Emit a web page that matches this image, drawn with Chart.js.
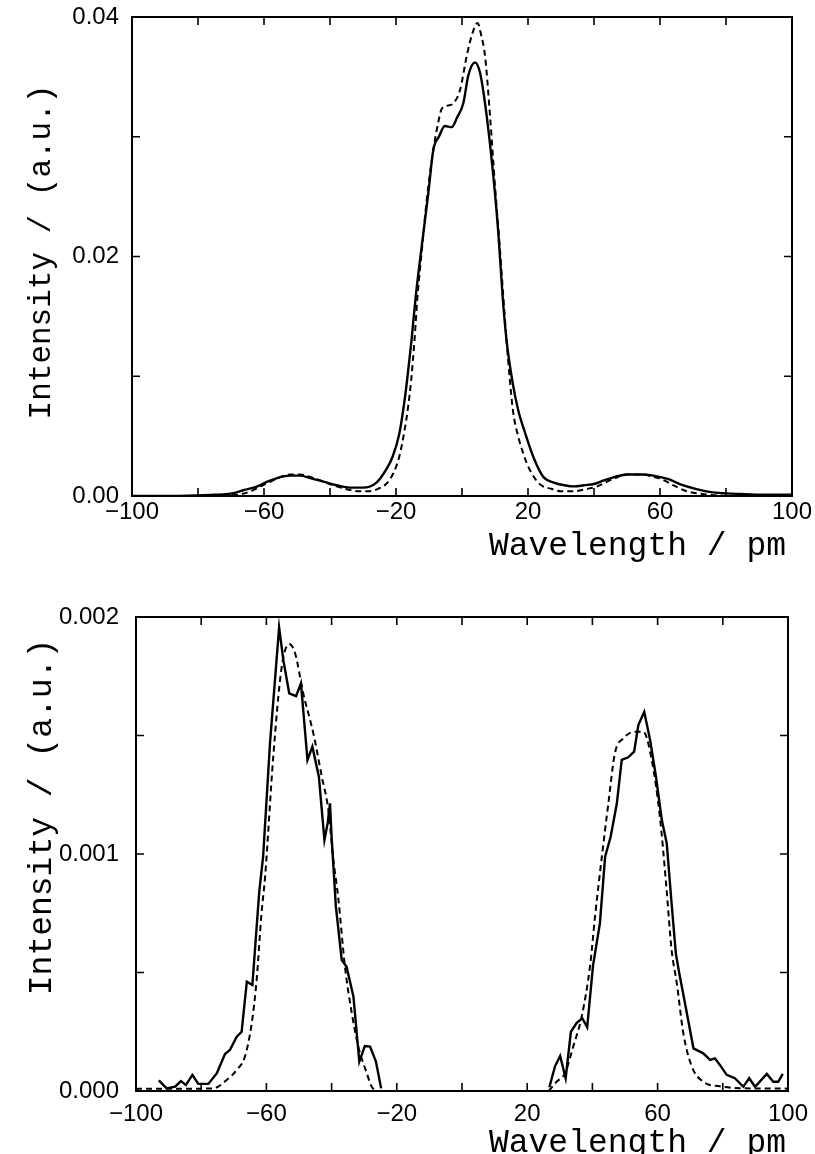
<!DOCTYPE html>
<html><head><meta charset="utf-8">
<script src="https://cdn.jsdelivr.net/npm/chart.js@4"></script>
<style>
html,body{margin:0;padding:0;background:#fff;}
#wrap{position:relative;width:815px;height:1154px;}
.box{position:absolute;left:0;width:815px;height:577px;}
</style></head><body>
<div id="wrap">
<div class="box" style="top:0"><canvas id="top"></canvas></div>
<div class="box" style="top:577px"><canvas id="bot"></canvas></div>
</div>
<script>
// top panel: measured (solid) and fit (dashed), wavelength in pm
var topSolidX = [-100,-90,-80,-75,-70,-66,-62,-59,-56,-52,-49,-46,-42,-38,-34,-30,-26,-23,-21,-19,-17.5,-16.5,-15.3,-14,-12,-10.2,-8.7,-7,-5.2,-3.1,-1.5,0.4,1.9,3.9,5.5,7.5,9.5,11,12.3,13.5,15.2,17,19.2,22,24.6,28,31,34,37,40,43,46.4,50,54.5,58,62.6,66,70.8,76,82,90,100];
var topSolidY = [0,0,0.00005,0.0001,0.0002,0.0005,0.0008,0.0012,0.0015,0.0017,0.0017,0.0015,0.0012,0.0009,0.0007,0.0007,0.0011,0.0022,0.0033,0.0052,0.0078,0.0100,0.0130,0.0167,0.0213,0.0253,0.0289,0.0300,0.0309,0.0308,0.0316,0.0328,0.0351,0.0362,0.0353,0.0317,0.0267,0.0220,0.0167,0.0130,0.0097,0.0072,0.0052,0.0030,0.0016,0.0011,0.0009,0.0008,0.0009,0.0010,0.0013,0.0016,0.0018,0.0018,0.0017,0.0014,0.0010,0.0006,0.0003,0.0002,0.0001,0.0001];
var topFitX = [-100,-80,-72,-68,-64,-61,-58,-55,-52,-49,-46,-42,-38,-34,-31,-28,-25.5,-23,-20.8,-19,-17.4,-16.3,-15.4,-14.4,-13.5,-12,-10.7,-8.7,-7.2,-6.2,-4.4,-2.6,-0.6,1.4,3,4.7,5.8,7,8.5,10,11.5,12.5,13.5,14.5,15.5,17,18.5,20,22,24,27,30,34,38,41,44,46.4,50,54.5,58,61.3,64,68,72,75,80,100];
var topFitY = [0,0,0.00005,0.0001,0.0004,0.0008,0.0012,0.0016,0.0018,0.0018,0.0016,0.0012,0.0008,0.0005,0.0004,0.0004,0.0006,0.0010,0.0019,0.0033,0.0055,0.0075,0.0097,0.0130,0.0166,0.0210,0.0247,0.0289,0.0312,0.0323,0.0326,0.0328,0.0339,0.0367,0.0385,0.0395,0.0385,0.0367,0.0317,0.0259,0.0206,0.0167,0.0130,0.0097,0.0070,0.0050,0.0036,0.0025,0.0015,0.0009,0.0006,0.0004,0.0004,0.0006,0.0008,0.0012,0.0015,0.0018,0.0018,0.0016,0.0013,0.0009,0.0004,0.0002,0.0001,0.00003,0];

// bottom panel: the two side peaks enlarged
var botSolidX = [-93,-90.6,-88,-86.2,-84.7,-82.7,-80.9,-77.8,-75.2,-72.7,-71.2,-69.1,-67.6,-66,-64.3,-62.2,-61,-58.9,-56.1,-54.8,-53,-50.9,-49.4,-47.4,-45.9,-43.9,-42.2,-41.2,-40.5,-40,-38.7,-36.9,-35.4,-33.3,-31.5,-29.8,-28.2,-26.4,-24.8,0,26.8,28.5,30.1,31.8,33.4,35.2,36.9,38.4,40.2,42.3,43.9,45.6,47.5,49,51,52.8,54.1,55.9,57.7,59.5,61.3,62.8,64.3,65.6,66.6,68.4,71,74,76.1,77.6,79.1,81.2,83.7,86.3,88.1,89.9,93.5,95.5,97,98.4];
var botSolidY = [0.000045,0.000011,0.000018,0.000042,0.000025,0.000068,0.00003,0.00003,0.000075,0.000156,0.000173,0.000229,0.00025,0.000461,0.000447,0.00084,0.00099,0.001467,0.001956,0.001818,0.001678,0.001666,0.00172,0.001397,0.001453,0.001326,0.001059,0.00113,0.001214,0.001073,0.00078,0.000553,0.000524,0.000398,0.000124,0.00019,0.000187,0.000124,0.000011,null,0.000016,0.000103,0.000148,0.000054,0.00025,0.000288,0.000307,0.000269,0.00053,0.000707,0.000989,0.001073,0.001214,0.001397,0.001408,0.001432,0.001544,0.0016,0.001481,0.001326,0.001143,0.001045,0.00079,0.00058,0.0005,0.00037,0.00018,0.000159,0.000131,0.000138,0.00011,0.000068,0.000054,0.000018,0.000054,0.000018,0.000072,0.000039,0.000039,0.000072];
var botFitX = [-100,-90,-80,-76.3,-72.2,-69.1,-66.6,-64.5,-63,-61.5,-60.4,-57.9,-55.3,-53,-51.2,-48.7,-45.6,-43,-41,-39.5,-38,-35.9,-33.8,-31.8,-29.2,-27.7,-26,0,26.6,29,31.6,34.1,36.7,39.3,40.8,42.9,44.9,46.9,49.5,53.1,55.6,58.2,60.7,62.6,64.3,65.9,67.9,70.5,74,79,85,100];
var botFitY = [0.00001,0.00001,0.00001,0.000011,0.000046,0.000089,0.000145,0.000286,0.000468,0.00075,0.000904,0.00141,0.00179,0.001886,0.001847,0.001678,0.001509,0.001326,0.001186,0.00098,0.00082,0.000524,0.000328,0.000187,0.000075,0.000018,0,null,0,0.000039,0.000075,0.000187,0.000313,0.00053,0.000735,0.000989,0.001214,0.001425,0.001488,0.001516,0.001516,0.001397,0.001157,0.000876,0.000595,0.000454,0.000243,0.000103,0.000039,0.00002,0.000012,0.00001];

var xTickStep = 20;
var topYStep = 0.01, botYStep = 0.0005;

function pts(xs, ys){ return xs.map((x,i)=>({x:x, y:ys[i]})); }
function fmtX(v){ return (v+100)%40===0 ? (v<0 ? '\u2212'+(-v) : ''+v) : ''; }

var frame = {
	id:'frame',
	afterDatasetsDraw(chart, args, o){
		var ctx = chart.ctx, a = chart.chartArea, sx = chart.scales.x, sy = chart.scales.y;
		ctx.save();
		ctx.strokeStyle = '#000';
		ctx.lineWidth = 2;
		ctx.strokeRect(a.left, a.top, a.right-a.left, a.bottom-a.top);
		ctx.lineWidth = 1.6;
		ctx.beginPath();
		sx.ticks.forEach(t=>{
			var p = sx.getPixelForValue(t.value);
			ctx.moveTo(p, a.bottom); ctx.lineTo(p, a.bottom-8);
			ctx.moveTo(p, a.top); ctx.lineTo(p, a.top+8);
		});
		sy.ticks.forEach(t=>{
			var p = sy.getPixelForValue(t.value);
			ctx.moveTo(a.left, p); ctx.lineTo(a.left+8, p);
			ctx.moveTo(a.right, p); ctx.lineTo(a.right-8, p);
		});
		ctx.stroke();
		ctx.fillStyle = '#000';
		ctx.font = '33px "Liberation Mono"';
		ctx.textAlign = 'right'; ctx.textBaseline = 'middle';
		ctx.fillText('Wavelength / pm', o.xtRight, o.xtY);
		ctx.translate(o.ytX, o.ytY);
		ctx.rotate(-Math.PI/2);
		ctx.textAlign = 'center';
		ctx.font = o.ytSize + 'px "Liberation Mono"';
		ctx.fillText('Intensity / (a.u.)', 0, 0);
		ctx.restore();
	}
};

function makeChart(id, solid, fit, ymax, ystep, ydig, yw, xh, pad, titles, solidSmooth){
	return new Chart(id, {
		type:'line',
		data:{ datasets:[
			{ data:solid, borderColor:'#000', borderWidth:2.4, pointRadius:0, fill:false,
			  cubicInterpolationMode: solidSmooth ? 'monotone' : 'default', tension:0, spanGaps:false },
			{ data:fit, borderColor:'#000', borderWidth:2, borderDash:[6,4], pointRadius:0, fill:false,
			  cubicInterpolationMode:'monotone', spanGaps:false }
		]},
		options:{
			responsive:true, maintainAspectRatio:false, animation:false,
			layout:{ padding:pad },
			plugins:{ legend:{display:false}, tooltip:{enabled:false}, frame:titles },
			scales:{
				x:{ type:'linear', min:-100, max:100,
					grid:{display:false, tickLength:0}, border:{display:false},
					ticks:{ stepSize:xTickStep, autoSkip:false, maxRotation:0, padding:titles.xpad,
						color:'#000', font:{family:'"Liberation Sans"', size:24}, callback:fmtX },
					afterFit:(s)=>{ s.height = xh; s.paddingLeft = 0; s.paddingRight = 0; } },
				y:{ min:0, max:ymax,
					grid:{display:false, tickLength:0}, border:{display:false},
					ticks:{ stepSize:ystep, autoSkip:false, padding:titles.ypad, color:'#000',
						font:{family:'"Liberation Sans"', size:24},
						callback:(v)=> Math.round(v/ystep)%2===0 ? v.toFixed(ydig) : '' },
					afterFit:(s)=>{ s.width = yw; s.paddingTop = 0; s.paddingBottom = 0; } }
			}
		},
		plugins:[frame]
	});
}

makeChart('top', pts(topSolidX, topSolidY), pts(topFitX, topFitY), 0.04, topYStep, 2, 132, 81,
	{top:17, right:23, left:0, bottom:0},
	{xtRight:786, xtY:546, ytX:42, ytY:252, ytSize:31, xpad:2, ypad:13}, true);
makeChart('bot', pts(botSolidX, botSolidY), pts(botFitX, botFitY), 0.002, botYStep, 3, 136, 63,
	{top:40, right:27, left:0, bottom:0},
	{xtRight:786, xtY:566, ytX:42, ytY:240, ytSize:33, xpad:9, ypad:17}, false);
</script>
</body></html>
